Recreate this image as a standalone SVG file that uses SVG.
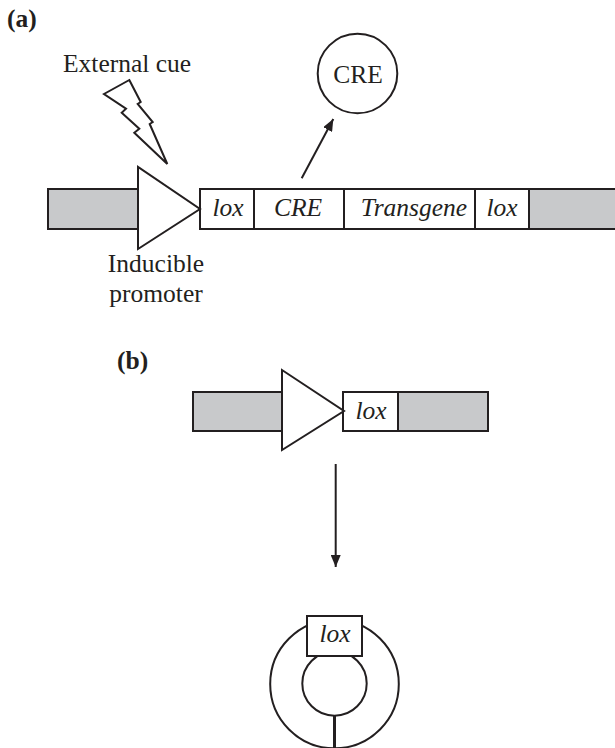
<svg xmlns="http://www.w3.org/2000/svg" width="615" height="748" viewBox="0 0 615 748">
<defs>
<style>
text{font-family:"Liberation Serif","Times New Roman",serif;font-size:25.5px;fill:#231f20}
.b{font-weight:bold}
.i{font-style:italic}
.m{text-anchor:middle}
.gray{fill:#c8c9cb;stroke:#231f20;stroke-width:2}
.box{fill:#fff;stroke:#231f20;stroke-width:2}
.ln{fill:none;stroke:#231f20;stroke-width:2}
</style>
<marker id="ah" viewBox="0 0 12 10" refX="12" refY="5" markerWidth="12" markerHeight="10" markerUnits="userSpaceOnUse" orient="auto">
<path d="M0,0 L12,5 L0,10 Z" fill="#231f20"/>
</marker>
</defs>
<rect width="615" height="748" fill="#fff"/>

<text class="b" x="7" y="27">(a)</text>
<text id="cue" x="63" y="72">External cue</text>
<g id="bolt">
<polygon class="ln" points="129.3,80 140.7,102 137.7,104 152.7,122 149.7,124 167.3,164 134.3,132.7 139.3,128.7 121.7,112.7 126,108.7 104,94"/>
</g>

<g id="barA">
<rect class="gray" x="48" y="189" width="95" height="40"/>
<rect class="gray" x="529" y="189" width="95" height="40"/>
<g id="loxA1"><rect class="box" x="200" y="189" width="54" height="40"/><text class="i m" x="228" y="216">lox</text></g>
<g id="creBox"><rect class="box" x="254" y="189" width="90" height="40"/><text class="i m" x="298" y="216">CRE</text></g>
<g id="transgene"><rect class="box" x="344" y="189" width="131" height="40"/><text class="i m" x="414" y="216">Transgene</text></g>
<g id="loxA2"><rect class="box" x="475" y="189" width="54" height="40"/><text class="i m" x="502" y="216">lox</text></g>
<g id="promA"><polygon class="box" points="138,167 138,249 200,209"/></g>
</g>
<text class="m" x="156" y="272">Inducible</text>
<text class="m" x="156" y="302">promoter</text>

<g id="creProt">
<circle class="ln" cx="357.5" cy="73.5" r="39.8"/>
<text class="m" x="358" y="83">CRE</text>
</g>

<text class="b" x="117" y="369">(b)</text>
<g id="barB">
<rect class="gray" x="193" y="392" width="95" height="39"/>
<g id="loxB"><rect class="box" x="343" y="392" width="55" height="39"/><text class="i m" x="371" y="419">lox</text></g>
<rect class="gray" x="398" y="392" width="90" height="39"/>
<g id="promB"><polygon class="box" points="282,370 282,450 344,411"/></g>
</g>

<g id="circleProd">
<circle class="ln" cx="334.5" cy="684" r="64.3"/>
<circle class="ln" cx="334.5" cy="683.5" r="32.2"/>
<line x1="334.5" y1="715.7" x2="334.5" y2="750" stroke="#231f20" stroke-width="3"/>
<rect class="box" x="307" y="616" width="55" height="40"/>
<text class="i m" x="335" y="642">lox</text>
</g>

<g id="connectors">
<line class="ln" x1="301.7" y1="178.3" x2="333.3" y2="119" stroke-width="1.5" marker-end="url(#ah)"/>
<line class="ln" x1="335.7" y1="464" x2="335.7" y2="567" stroke-width="1.5" marker-end="url(#ah)"/>
</g>
</svg>
